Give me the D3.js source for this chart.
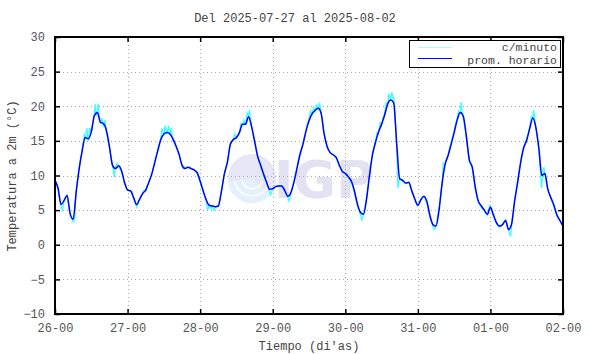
<!DOCTYPE html>
<html>
<head>
<meta charset="utf-8">
<script src="https://cdn.jsdelivr.net/npm/d3@7"></script>
<style>
body { margin:0; background:#fff; }
svg text { font-family:"Liberation Mono","DejaVu Sans Mono",monospace; }
</style>
</head>
<body>
<div id="area"></div>
<script>
var width = 590;
var height = 354;

// datos
var titulo = "Del 2025-07-27 al 2025-08-02";
var diaLabels = ["26-00","27-00","28-00","29-00","30-00","31-00","01-00","02-00"];
var diaHoras = [0,24,48,72,96,120,144,168];
var yTicks = [-10,-5,0,5,10,15,20,25,30];

// promedio horario (una lectura por hora, h=0..168)
var horario = [
 9.3,8.2,5.8,6.4,7.1,4.5,3.7,7.6,11.0,13.6,15.5,15.3,16.3,18.6,19.1,17.7,17.5,16.5,14.2,11.5,11.0,11.4,10.7,9.0,
 7.9,7.8,6.8,5.8,6.6,7.4,7.9,9.0,10.2,11.9,13.6,15.2,16.0,16.2,16.0,15.3,14.3,13.1,11.5,11.0,11.2,11.0,10.8,10.4,
 9.2,7.8,6.5,5.7,5.6,5.5,5.6,7.6,10.2,11.9,14.5,15.2,15.5,16.2,17.4,17.4,18.5,17.1,15.0,12.8,11.5,10.2,9.0,8.0,
 8.1,8.4,8.5,8.5,7.8,7.0,7.5,9.0,11.0,13.0,14.5,16.4,17.9,18.9,19.4,19.7,19.0,16.0,14.2,13.3,13.0,12.6,11.5,10.6,
 10.3,9.8,9.2,7.8,5.9,4.7,4.4,6.5,10.0,13.0,14.8,16.3,17.4,18.7,20.3,20.9,20.5,14.6,9.5,9.3,8.9,9.0,7.8,6.6,
 5.7,6.5,7.0,6.2,4.2,2.9,2.7,5.0,8.8,11.6,12.9,14.5,16.2,18.0,19.1,18.6,15.8,12.3,11.2,8.3,6.3,5.6,5.0,4.4,
 5.4,4.3,3.2,2.7,2.9,3.5,2.2,3.0,6.3,9.0,11.9,14.0,15.1,16.8,18.3,17.0,14.0,10.0,10.3,8.0,6.8,5.7,4.3,3.5,
 2.7
];

// lecturas por minuto (hora, temperatura)
var minuto = [
 [0,9.4],[1,8.0],[2,5.5],[2.5,5.0],[3,6.3],[4,7.2],[5,4.3],[6,3.3],[6.5,3.6],[7,7.8],[8,11.2],[9,13.8],[9.7,16.0],
 [10,15.2],[10.5,16.8],[11,15.0],[11.5,16.9],[12,16.2],[12.5,17.5],[13,19.0],[13.3,20.3],[13.6,18.6],[14,19.5],
 [14.3,20.4],[14.6,18.8],[15,17.5],[15.5,18.3],[16,17.0],[16.5,18.0],[17,16.2],[18,14.0],[19,11.5],[19.6,9.8],
 [20,11.2],[20.5,11.8],[21,11.3],[22,10.6],[23,8.8],[24,7.9],[25,7.7],[26,6.8],[27,5.4],[28,6.7],[29,7.4],[29.5,7.9],
 [30,7.7],[31,9.0],[32,10.2],[33,12.0],[34,13.8],[35,15.4],[35.4,16.8],[36,15.8],[36.4,17.2],[37,16.0],[37.5,17.2],
 [38,15.8],[38.4,16.9],[39,15.0],[40,14.2],[41,13.0],[42,11.4],[43,11.2],[44,11.2],[45,11.0],[46,10.8],[47,10.3],
 [48,9.0],[49,7.6],[50,6.3],[50.5,5.0],[51,5.7],[51.5,5.2],[52,5.6],[52.5,5.0],[53,5.5],[54,5.5],[55,7.7],[56,10.2],
 [57,12.0],[58,14.6],[59,15.3],[59.5,16.0],[60,15.4],[61,16.3],[61.5,17.5],[62,17.2],[62.5,18.0],[63,17.3],
 [63.5,19.0],[64,18.6],[64.3,19.5],[65,17.0],[66,14.8],[67,12.7],[68,11.3],[69,10.0],[70,8.9],[71,7.6],[71.3,7.2],
 [72,8.0],[73,8.5],[74,8.5],[75,8.5],[76,7.8],[77,6.8],[77.4,6.3],[78,7.4],[79,9.1],[80,11.1],[81,13.0],[82,14.7],
 [83,16.5],[83.5,17.5],[84,18.2],[84.5,19.3],[85,18.8],[85.5,19.8],[86,19.2],[86.5,20.3],[87,19.5],[87.5,20.5],
 [88,19.3],[89,16.0],[90,14.0],[91,13.3],[92,13.0],[93,12.5],[94,11.4],[95,10.6],[96,10.2],[97,9.8],[98,9.0],
 [99,7.6],[100,5.6],[101,4.4],[101.4,3.6],[102,4.2],[103,6.6],[104,10.1],[105,13.2],[106,15.0],[106.5,16.2],
 [107,16.0],[107.5,17.6],[108,17.2],[108.5,18.4],[109,19.0],[109.5,20.5],[110,20.0],[110.4,21.8],[111,21.0],
 [111.4,22.0],[111.8,21.2],[112,21.4],[112.4,19.5],[113,14.2],[113.4,8.2],[114,9.8],[115,9.1],[116,8.8],[117,9.1],
 [118,7.6],[119,6.5],[120,5.6],[121,6.6],[122,7.0],[123,6.0],[124,4.0],[125,2.6],[125.5,2.2],[126,2.8],[127,5.2],
 [127.5,7.0],[128,8.6],[128.4,11.8],[129,11.5],[130,13.0],[131,14.8],[132,16.4],[132.5,17.6],[133,18.2],
 [133.5,19.3],[134,19.0],[134.3,20.6],[134.8,18.8],[135,18.4],[136,15.6],[137,12.0],[138,11.0],[139,8.0],[140,6.1],
 [141,5.4],[142,4.8],[143,4.2],[143.8,5.8],[144,5.3],[145,4.1],[146,3.0],[147,2.5],[148,2.9],[149,3.6],[150,2.0],
 [150.7,1.2],[151,2.8],[152,6.5],[153,9.2],[154,12.0],[155,14.1],[156,15.3],[157,17.0],[157.5,18.5],[158,18.3],
 [158.3,19.5],[159,17.0],[160,13.8],[160.9,8.2],[161.3,10.5],[161.7,11.2],[162,10.0],[163,7.9],[164,6.6],
 [165,5.5],[166,4.1],[167,3.4],[168,2.6]
];

var mLeft = 55, mRight = 563, mTop = 37, mBottom = 314;

var svg = d3.select("#area").append("svg")
    .attr("width", width)
    .attr("height", height);

var x = d3.scaleLinear().domain([0,168]).range([mLeft,mRight]);
var y = d3.scaleLinear().domain([-10,30]).range([mBottom,mTop]);

// marca de agua IGP
var wm = svg.append("g").attr("class","watermark");
wm.append("circle").attr("cx",252).attr("cy",178).attr("r",24).attr("fill","#e6e6f6");
wm.append("path")
    .attr("d","M228,182 A24,24 0 0 0 270,195 L252,178 Z")
    .attr("fill","#e4f0fc");
[10,17].forEach(function(r) {
    wm.append("path")
        .attr("d", d3.arc()({innerRadius:r, outerRadius:r+1.5, startAngle:Math.PI*0.6, endAngle:Math.PI*1.45}))
        .attr("transform","translate(252,178)")
        .attr("fill","#fff");
});
wm.append("text")
    .attr("x",274).attr("y",198)
    .style("font-family","'DejaVu Sans',sans-serif")
    .attr("font-weight","bold")
    .attr("font-size",52)
    .attr("fill","#e2e2f2")
    .text("IGP");

// rejilla
var grid = svg.append("g").attr("class","grid")
    .attr("stroke","#aaa").attr("stroke-width",1).attr("stroke-dasharray","1,3");
grid.selectAll(".gx").data(diaHoras.slice(1,-1)).enter().append("line")
    .attr("x1",function(d){return Math.round(x(d))+0.5;}).attr("x2",function(d){return Math.round(x(d))+0.5;})
    .attr("y1",mTop).attr("y2",mBottom);
grid.selectAll(".gy").data(yTicks.slice(1,-1)).enter().append("line")
    .attr("y1",function(d){return Math.round(y(d))+0.5;}).attr("y2",function(d){return Math.round(y(d))+0.5;})
    .attr("x1",mLeft).attr("x2",mRight);

// series
var lineMin = d3.line().x(function(d){return x(d[0]);}).y(function(d){return y(d[1]);});
svg.append("path").datum(minuto)
    .attr("d",lineMin)
    .attr("fill","none").attr("stroke","#3ff").attr("stroke-width",1.2);

var lineHor = d3.line().x(function(d,i){return x(i);}).y(function(d){return y(d);}).curve(d3.curveMonotoneX);
svg.append("path").datum(horario)
    .attr("d",lineHor)
    .attr("fill","none").attr("stroke","#0000ff").attr("stroke-width",1.5);

// ejes
function estilo(g) {
    g.select(".domain").remove();
    g.selectAll("line").attr("stroke","#000").attr("stroke-width",1.5);
    g.selectAll("text").attr("fill","#555").attr("font-size",12)
        .style("font-family","'Liberation Mono',monospace");
}
var fmtX = function(d,i){ return diaLabels[i]; };
svg.append("g").attr("transform","translate(0,"+mBottom+")")
    .call(d3.axisBottom(x).tickValues(diaHoras).tickFormat(fmtX).tickSizeInner(-5).tickSizeOuter(0).tickPadding(9))
    .call(estilo);
svg.append("g").attr("transform","translate(0,"+mTop+")")
    .call(d3.axisTop(x).tickValues(diaHoras).tickFormat("").tickSizeInner(-5).tickSizeOuter(0))
    .call(estilo);
svg.append("g").attr("transform","translate("+mLeft+",0)")
    .call(d3.axisLeft(y).tickValues(yTicks).tickFormat(d3.format("d")).tickSizeInner(-5).tickSizeOuter(0).tickPadding(10))
    .call(estilo);
svg.append("g").attr("transform","translate("+mRight+",0)")
    .call(d3.axisRight(y).tickValues(yTicks).tickFormat("").tickSizeInner(-5).tickSizeOuter(0))
    .call(estilo);

// marco
svg.append("rect")
    .attr("x",mLeft).attr("y",mTop).attr("width",mRight-mLeft).attr("height",mBottom-mTop)
    .attr("fill","none").attr("stroke","#000").attr("stroke-width",2);

// textos
svg.append("text").attr("x",295).attr("y",22).attr("text-anchor","middle")
    .attr("font-size",12).attr("fill","#444").text(titulo);
svg.append("text").attr("x",309).attr("y",350).attr("text-anchor","middle")
    .attr("font-size",12).attr("fill","#444").text("Tiempo (di'as)");
svg.append("text").attr("transform","translate(16,176) rotate(-90)").attr("text-anchor","middle")
    .attr("font-size",12).attr("fill","#444").text("Temperatura a 2m (\u00b0C)");

// leyenda
var leg = svg.append("g");
leg.append("rect").attr("x",409.5).attr("y",40.5).attr("width",151).attr("height",27)
    .attr("fill","#fff").attr("stroke","#000").attr("stroke-width",1);
leg.append("line").attr("x1",418).attr("x2",452).attr("y1",47.5).attr("y2",47.5)
    .attr("stroke","#aff").attr("stroke-width",1.2);
leg.append("line").attr("x1",418).attr("x2",452).attr("y1",58.5).attr("y2",58.5)
    .attr("stroke","#0000ff").attr("stroke-width",1.2);
leg.append("text").attr("x",557).attr("y",51).attr("text-anchor","end")
    .attr("font-size",11.5).attr("fill","#444").text("c/minuto");
leg.append("text").attr("x",557).attr("y",63.5).attr("text-anchor","end")
    .attr("font-size",11.5).attr("fill","#444").text("prom. horario");
</script>
</body>
</html>
